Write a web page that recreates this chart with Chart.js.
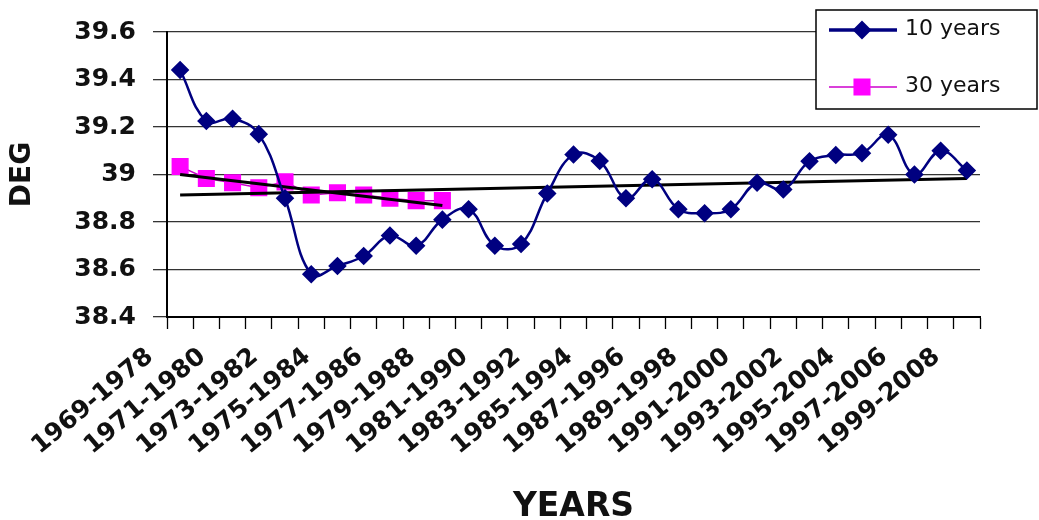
<!DOCTYPE html>
<html>
<head>
<meta charset="utf-8">
<script src="https://cdn.jsdelivr.net/npm/chart.js@4.4.1/dist/chart.umd.min.js"></script>
<style>
  html, body { margin: 0; padding: 0; background: #fff; }
  #wrap { width: 1039px; height: 520px; position: relative; }
</style>
</head>
<body>
<div id="wrap"><canvas id="c" width="1039" height="520"></canvas></div>
<script>
// ---- data ----
const categories = [
  '1969-1978','1970-1979','1971-1980','1972-1981','1973-1982','1974-1983','1975-1984','1976-1985',
  '1977-1986','1978-1987','1979-1988','1980-1989','1981-1990','1982-1991','1983-1992','1984-1993',
  '1985-1994','1986-1995','1987-1996','1988-1997','1989-1998','1990-1999','1991-2000','1992-2001',
  '1993-2002','1994-2003','1995-2004','1996-2005','1997-2006','1998-2007','1999-2008'
];
const tenYears = [
  39.44, 39.225, 39.235, 39.17, 38.90, 38.58, 38.615, 38.657, 38.743, 38.70,
  38.81, 38.854, 38.70, 38.707, 38.92, 39.084, 39.057, 38.90, 38.98, 38.854,
  38.837, 38.854, 38.965, 38.937, 39.056, 39.082, 39.09, 39.167, 39.0, 39.10, 39.017
];
const thirtyYears = [
  39.034, 38.983, 38.965, 38.944, 38.969, 38.914, 38.923, 38.914, 38.90, 38.89, 38.89,
  null, null, null, null, null, null, null, null, null, null, null, null, null, null, null, null, null, null, null, null
];
// trend line end points (straight lines)
const trendTen = [38.914, ...Array(29).fill(null), 38.983];
const trendThirty = [39.0, ...Array(9).fill(null), 38.869, ...Array(20).fill(null)];
const yTickValues = [38.4, 38.6, 38.8, 39, 39.2, 39.4, 39.6];
const seriesNames = ['10 years', '30 years'];
const axisTitles = { x: 'YEARS', y: 'DEG' };

const FONT = 'DejaVu Sans';

const legendBox = {
  id: 'legendBox',
  afterDraw(chart) {
    const ctx = chart.ctx;
    ctx.save();
    ctx.fillStyle = '#ffffff';
    ctx.strokeStyle = '#000000';
    ctx.lineWidth = 1.5;
    ctx.fillRect(816, 10, 221, 99);
    ctx.strokeRect(816, 10, 221, 99);
    const items = chart.data.datasets.filter(d => d.inLegend);
    const rows = [30, 87];
    items.forEach((ds, i) => {
      const y = rows[i];
      ctx.strokeStyle = ds.borderColor;
      ctx.lineWidth = ds.legendLineWidth;
      ctx.beginPath();
      ctx.moveTo(829, y);
      ctx.lineTo(897, y);
      ctx.stroke();
      ctx.fillStyle = ds.pointBackgroundColor;
      ctx.strokeStyle = ds.pointBorderColor;
      Chart.helpers.drawPoint(ctx, {pointStyle: ds.pointStyle, radius: ds.legendPointRadius, rotation: 0, borderWidth: 1}, 862, y);
      ctx.fillStyle = '#111';
      ctx.font = '22px "' + FONT + '"';
      ctx.textAlign = 'left';
      ctx.textBaseline = 'middle';
      ctx.fillText(ds.label, 905, y - 1);
    });
    ctx.restore();
  }
};

new Chart(document.getElementById('c'), {
  type: 'line',
  data: {
    labels: categories,
    datasets: [
      {
        label: seriesNames[0], data: tenYears, inLegend: true,
        borderColor: '#000080', borderWidth: 2.5, tension: 0.4,
        pointStyle: 'rectRot', pointRadius: 7.5, pointBackgroundColor: '#000080', pointBorderColor: '#000080',
        legendLineWidth: 3.5, legendPointRadius: 7, order: 0
      },
      {
        label: seriesNames[1], data: thirtyYears, inLegend: true,
        borderColor: '#cc00cc', borderWidth: 1.5, tension: 0,
        pointStyle: 'rect', pointRadius: 11, pointBackgroundColor: '#ff00ff', pointBorderColor: '#ff00ff',
        legendLineWidth: 1.5, legendPointRadius: 11, order: 2
      },
      {
        label: 'trend 10', data: trendTen, spanGaps: true, inLegend: false,
        borderColor: '#000000', borderWidth: 3, pointRadius: 0, tension: 0, order: 1
      },
      {
        label: 'trend 30', data: trendThirty, spanGaps: true, inLegend: false,
        borderColor: '#000000', borderWidth: 3, pointRadius: 0, tension: 0, order: 1
      }
    ]
  },
  options: {
    responsive: false,
    animation: false,
    events: [],
    layout: { padding: { left: 0, top: 28, right: 59, bottom: 0 } },
    plugins: { legend: { display: false }, tooltip: { enabled: false } },
    scales: {
      x: {
        offset: true,
        grid: { offset: true, drawOnChartArea: false, drawTicks: true, tickLength: 12, tickColor: '#000', tickWidth: 1.3 },
        border: { display: true, color: '#000', width: 2 },
        ticks: {
          autoSkip: false, minRotation: 40, maxRotation: 40,
          labelOffset: -30, padding: 13,
          color: '#111', font: { family: FONT, size: 25, weight: 'bold' },
          callback: function(v, i) { return i % 2 === 0 ? categories[i] : ''; }
        },
        title: {
          display: true, text: axisTitles.x, color: '#111',
          font: { family: FONT, size: 33, weight: 'bold', lineHeight: 0.9 },
          padding: { top: 0, bottom: -2 }
        },
        afterFit(scale) { scale.height = 203; }
      },
      y: {
        min: 38.4, max: 39.6,
        grid: { color: '#333', lineWidth: 1.3, drawTicks: true, tickLength: 14 },
        border: { display: true, color: '#000', width: 2 },
        afterBuildTicks(scale) { scale.ticks = yTickValues.map(v => ({ value: v })); },
        ticks: {
          padding: 17, color: '#111',
          font: { family: FONT, size: 25, weight: 'bold' },
          callback: function(v) { return String(Math.round(v * 10) / 10); }
        },
        title: {
          display: true, text: axisTitles.y, color: '#111',
          font: { family: FONT, size: 28, weight: 'bold', lineHeight: 1 },
          padding: { top: 9, bottom: 0 }
        },
        afterFit(scale) { scale.width = 167; }
      }
    }
  },
  plugins: [legendBox]
});
</script>
</body>
</html>
